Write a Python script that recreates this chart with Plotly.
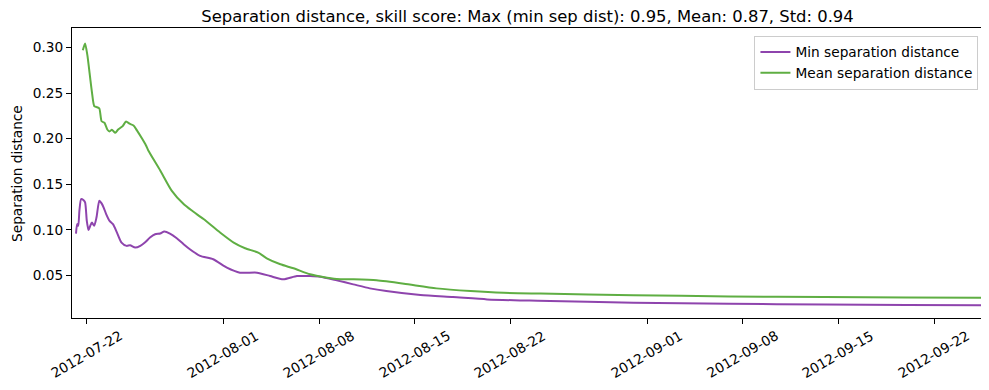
import plotly.graph_objects as go

# ---- data ----
min_times = [
    "2012-07-21 05:00", "2012-07-21 07:00", "2012-07-21 09:00", "2012-07-21 11:00",
    "2012-07-21 14:00", "2012-07-21 18:00", "2012-07-21 21:00", "2012-07-22 00:00",
    "2012-07-22 03:00", "2012-07-22 06:00", "2012-07-22 09:00", "2012-07-22 13:00",
    "2012-07-22 17:00", "2012-07-22 22:00", "2012-07-23 02:00", "2012-07-23 06:00",
    "2012-07-23 10:00", "2012-07-23 16:00", "2012-07-23 22:00", "2012-07-24 05:00",
    "2012-07-24 13:00", "2012-07-24 22:00", "2012-07-25 04:00", "2012-07-25 13:00",
    "2012-07-25 22:00", "2012-07-26 06:00", "2012-07-26 15:00", "2012-07-27 00:00",
    "2012-07-27 09:00", "2012-07-27 16:00", "2012-07-28 02:00", "2012-07-28 14:00",
    "2012-07-29 02:00", "2012-07-29 13:00", "2012-07-30 07:00", "2012-07-31 06:00",
    "2012-08-01 06:00", "2012-08-02 05:00", "2012-08-03 11:00", "2012-08-04 10:00",
    "2012-08-05 09:00", "2012-08-06 09:00", "2012-08-07 08:00", "2012-08-08 02:00",
    "2012-08-09 07:00", "2012-08-10 12:00", "2012-08-11 17:00", "2012-08-12 22:00",
    "2012-08-15 10:00", "2012-08-17 19:00", "2012-08-20 07:00", "2012-08-22 17:00",
    "2012-08-24 00:00", "2012-08-31 00:00", "2012-09-07 00:00", "2012-09-14 00:00",
    "2012-09-20 00:00", "2012-09-25 14:00",
]
min_sep = [
    0.0958, 0.1062, 0.1043, 0.1208,
    0.1337, 0.1326, 0.1300, 0.1098,
    0.0996, 0.1043, 0.1079, 0.1043,
    0.1134, 0.1318, 0.1289, 0.1238,
    0.1172, 0.1098, 0.1062, 0.0969,
    0.0859, 0.0823, 0.0830, 0.0804,
    0.0823, 0.0859, 0.0914, 0.0951,
    0.0958, 0.0980, 0.0958, 0.0907,
    0.0841, 0.0786, 0.0713, 0.0676,
    0.0584, 0.0529, 0.0529, 0.0492,
    0.0456, 0.0492, 0.0492, 0.0485,
    0.0445, 0.0401, 0.0357, 0.0327,
    0.0283, 0.0261, 0.0236, 0.0225,
    0.0222, 0.0200, 0.0188, 0.0180,
    0.0175, 0.0172,
]

mean_times = [
    "2012-07-21 17:00", "2012-07-21 21:00", "2012-07-22 01:00", "2012-07-22 06:00",
    "2012-07-22 09:00", "2012-07-22 13:00", "2012-07-22 17:00", "2012-07-22 22:00",
    "2012-07-23 02:00", "2012-07-23 07:00", "2012-07-23 12:00", "2012-07-23 16:00",
    "2012-07-23 20:00", "2012-07-24 02:00", "2012-07-24 07:00", "2012-07-24 15:00",
    "2012-07-24 21:00", "2012-07-25 03:00", "2012-07-25 10:00", "2012-07-25 16:00",
    "2012-07-26 01:00", "2012-07-26 08:00", "2012-07-26 12:00", "2012-07-27 09:00",
    "2012-07-28 05:00", "2012-07-29 02:00", "2012-07-29 17:00", "2012-07-30 13:00",
    "2012-07-31 18:00", "2012-08-01 18:00", "2012-08-02 14:00", "2012-08-03 13:00",
    "2012-08-04 04:00", "2012-08-05 04:00", "2012-08-06 03:00", "2012-08-07 08:00",
    "2012-08-08 07:00", "2012-08-09 07:00", "2012-08-10 12:00", "2012-08-12 05:00",
    "2012-08-14 05:00", "2012-08-16 14:00", "2012-08-19 02:00", "2012-08-21 12:00",
    "2012-08-24 05:00", "2012-08-31 00:00", "2012-09-07 00:00", "2012-09-14 00:00",
    "2012-09-20 00:00", "2012-09-25 14:00",
]
mean_sep = [
    0.2970, 0.3044, 0.2915, 0.2660,
    0.2510, 0.2357, 0.2346, 0.2330,
    0.2190, 0.2174, 0.2100, 0.2078,
    0.2097, 0.2064, 0.2100, 0.2137,
    0.2188, 0.2163, 0.2144, 0.2090,
    0.2000, 0.1924, 0.1870, 0.1650,
    0.1430, 0.1282, 0.1208, 0.1117,
    0.0970, 0.0859, 0.0797, 0.0749,
    0.0687, 0.0621, 0.0577, 0.0511,
    0.0481, 0.0460, 0.0456, 0.0445,
    0.0408, 0.0357, 0.0327, 0.0308,
    0.0300, 0.0282, 0.0269, 0.0262,
    0.0257, 0.0253,
]

x_ticks = ["2012-07-22", "2012-08-01", "2012-08-08", "2012-08-15", "2012-08-22",
           "2012-09-01", "2012-09-08", "2012-09-15", "2012-09-22"]
y_ticks = [0.05, 0.10, 0.15, 0.20, 0.25, 0.30]
y_tick_labels = ["0.05", "0.10", "0.15", "0.20", "0.25", "0.30"]

title_text = "Separation distance, skill score: Max (min sep dist): 0.95, Mean: 0.87, Std: 0.94"
y_title = "Separation distance"

FONT = "DejaVu Sans"
FS = 13.7
PURPLE = "#8e44ad"
GREEN = "#5fae43"

# the page body has an 8px default margin, so the figure is sized to fit the window
W, H = 981, 382

fig = go.Figure()
fig.add_trace(go.Scatter(x=min_times, y=min_sep, mode="lines",
                         line=dict(color=PURPLE, width=2, shape="spline", smoothing=0.6),
                         name="Min separation distance"))
fig.add_trace(go.Scatter(x=mean_times, y=mean_sep, mode="lines",
                         line=dict(color=GREEN, width=2, shape="spline", smoothing=0.6),
                         name="Mean separation distance"))

for t in x_ticks:
    fig.add_annotation(x=t, xref="x", y=-0.1255, yref="paper", text=t,
                       textangle=-30, showarrow=False, xanchor="center", yanchor="middle",
                       font=dict(family=FONT, size=FS, color="black"))

fig.add_annotation(x=-0.0604, xref="paper", y=0.5, yref="paper", text=y_title,
                   textangle=-90, showarrow=False, xanchor="center", yanchor="middle",
                   font=dict(family=FONT, size=FS, color="black"))

fig.update_layout(
    width=W, height=H,
    margin=dict(l=64, r=6, t=20, b=72, autoexpand=False),
    paper_bgcolor="white", plot_bgcolor="white",
    font=dict(family=FONT, size=FS, color="black"),
    title=dict(text=title_text, x=0.5, xref="paper", xanchor="center",
               y=1 - 8 / H, yref="container", yanchor="middle",
               font=dict(family=FONT, size=16.4, color="black")),
    showlegend=True,
    legend=dict(x=0.995, y=0.974, xanchor="right", yanchor="top",
                bgcolor="rgba(255,255,255,0.8)", bordercolor="#cccccc", borderwidth=1,
                font=dict(family=FONT, size=FS, color="black"),
                itemwidth=30, tracegroupgap=0),
    xaxis=dict(type="date", automargin=False,
               range=["2012-07-20 22:00", "2012-09-25 14:00"],
               tickvals=x_ticks, showticklabels=False,
               ticks="outside", ticklen=5, tickwidth=1, tickcolor="black",
               showline=True, linecolor="black", linewidth=1, mirror=True,
               showgrid=False, zeroline=False),
    yaxis=dict(range=[0.0032, 0.3213], automargin=False,
               tickvals=y_ticks, ticktext=y_tick_labels,
               ticks="outside", ticklen=5, tickwidth=1, tickcolor="black",
               showline=True, linecolor="black", linewidth=1, mirror=True,
               showgrid=False, zeroline=False),
)

fig.write_html("out.html")
